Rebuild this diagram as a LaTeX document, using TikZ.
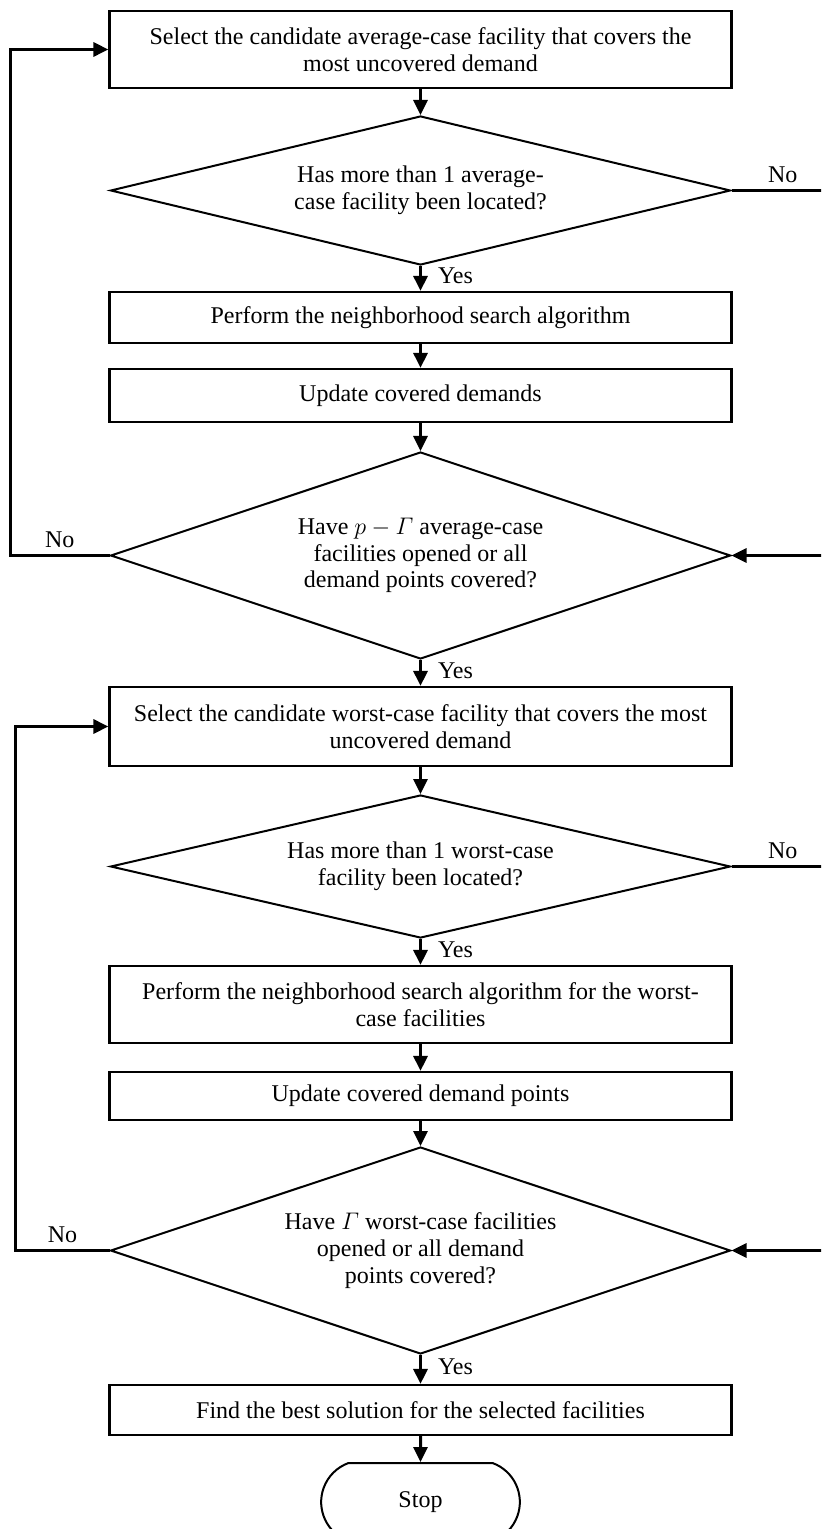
\documentclass[tikz,border=0pt]{standalone}
\usepackage{fontspec}
\setmainfont{Liberation Serif}
\usepackage{amsmath}
\usetikzlibrary{shapes.geometric, shapes.misc, arrows.meta}
\tikzstyle{box}=[rectangle, draw, line width=1.1pt, minimum width=311pt, align=center, inner sep=0pt]
\tikzstyle{dec}=[diamond, draw, line width=1pt, minimum width=310pt, align=center, inner sep=0pt, aspect=3]
\tikzstyle{term}=[rounded rectangle, draw, line width=1pt, minimum width=106pt, minimum height=39pt, rounded rectangle arc length=140]
\tikzstyle{arr}=[line width=1.5pt, -{Triangle[length=7.5pt, width=7pt]}]
\tikzstyle{ans}=[inner sep=3pt]
\tikzstyle{yes}=[ans, right, pos=0.4, xshift=5pt]

\begin{document}
\begin{tikzpicture}[x=0.5pt, y=-0.5pt, font=\fontsize{12}{13.3}\selectfont]
  \path[use as bounding box, clip] (0,0) rectangle (821,1529);
  \coordinate (lft) at (10,0);
  \coordinate (lft2) at (15.5,0);
  \coordinate (rgt) at (834,0);
  % average-case phase
  \node[box, minimum height=38.5pt] (selavg) at (420.5,49.5)
    {Select the candidate average-case facility that covers the\\ most uncovered demand};
  \node[dec, minimum height=74.5pt] (moreavg) at (420.5,190.5)
    {Has more than 1 average-\\case facility been located?};
  \node[box, minimum height=25.5pt] (nsavg) at (420.5,317.5)
    {Perform the neighborhood search algorithm};
  \node[box, minimum height=26.5pt] (updavg) at (420.5,395.5)
    {Update covered demands};
  \node[dec, minimum height=103.5pt] (doneavg) at (420.5,555.5)
    {Have $p-\varGamma$ average-case\\ facilities opened or all\\ demand points covered?};
  % worst-case phase
  \node[box, minimum height=39.5pt] (selwc) at (420.5,726.5)
    {Select the candidate worst-case facility that covers the most\\ uncovered demand};
  \node[dec, minimum height=71.5pt] (morewc) at (420.5,866.5)
    {Has more than 1 worst-case\\ facility been located?};
  \node[box, minimum height=38.5pt] (nswc) at (420.5,1004.5)
    {Perform the neighborhood search algorithm for the worst-\\case facilities};
  \node[box, minimum height=24pt] (updwc) at (420.5,1096)
    {Update covered demand points};
  \node[dec, minimum height=103.5pt] (donewc) at (420.5,1250.5)
    {Have $\varGamma$ worst-case facilities\\ opened or all demand\\ points covered?};
  \node[box, minimum height=25pt] (best) at (420.5,1410)
    {Find the best solution for the selected facilities};
  \node[term] (stop) at (420.5,1502) {Stop};

  \draw[arr] (selavg) -- (moreavg);
  \draw[arr] (moreavg) -- node[yes] {Yes} (nsavg);
  \draw[arr] (nsavg) -- (updavg);
  \draw[arr] (updavg) -- (doneavg);
  \draw[arr] (doneavg) -- node[yes] {Yes} (selwc);
  \draw[arr] (moreavg.east) -- (moreavg.east -| rgt) node[ans, midway, above] {No} |- (doneavg.east);
  \draw[arr] (doneavg.west) -- (doneavg.west -| lft) node[ans, midway, above] {No} |- (selavg.west);

  \draw[arr] (selwc) -- (morewc);
  \draw[arr] (morewc) -- node[yes] {Yes} (nswc);
  \draw[arr] (nswc) -- (updwc);
  \draw[arr] (updwc) -- (donewc);
  \draw[arr] (donewc) -- node[yes] {Yes} (best);
  \draw[arr] (best) -- (stop);
  \draw[arr] (morewc.east) -- (morewc.east -| rgt) node[ans, midway, above] {No} |- (donewc.east);
  \draw[arr] (donewc.west) -- (donewc.west -| lft2) node[ans, midway, above] {No} |- (selwc.west);
\end{tikzpicture}
\end{document}
